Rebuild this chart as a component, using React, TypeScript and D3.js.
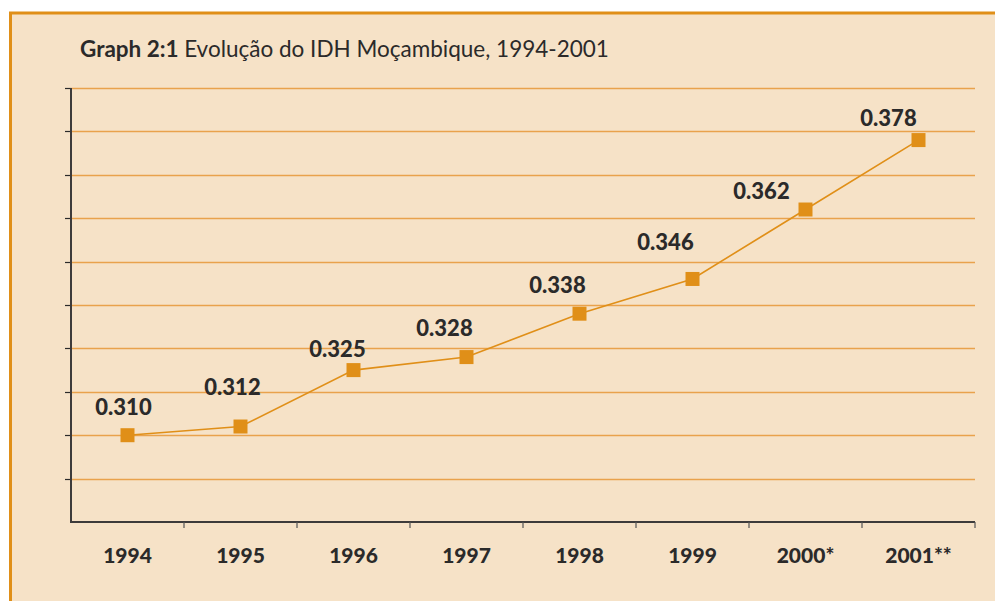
import React, { useEffect, useRef } from "react";
import * as d3 from "d3";

const years = ["1994", "1995", "1996", "1997", "1998", "1999", "2000*", "2001**"];
const idh = [0.31, 0.312, 0.325, 0.328, 0.338, 0.346, 0.362, 0.378];
const valueLabels = ["0.310", "0.312", "0.325", "0.328", "0.338", "0.346", "0.362", "0.378"];
// hand placement of value labels relative to the marker
const labelDx = [-4, -8, -16, -22, -22, -27, -44, -30];
const labelDy = [-20, -32, -13, -21, -21, -29, -11, -14];

const W = 995;
const H = 601;
const orange = "#e08f18";
const grid = "#e9a24c";
const bg = "#f6e2c7";
const ink = "#2b2a2a";
const font = "Lato, 'Open Sans', sans-serif";

export default function App() {
  const ref = useRef<SVGSVGElement>(null);

  useEffect(() => {
    const svg = d3.select(ref.current);
    svg.selectAll("*").remove();

    const left = 71;
    const right = 975;
    const top = 88;
    const bottom = 522;

    svg.append("rect").attr("width", W).attr("height", H).attr("fill", "#fff");
    svg.append("rect").attr("x", 10).attr("y", 13).attr("width", W - 10).attr("height", H - 13).attr("fill", bg);
    // frame: top and left edges
    svg.append("line").attr("x1", 9).attr("x2", W).attr("y1", 13).attr("y2", 13).attr("stroke", orange).attr("stroke-width", 3);
    svg.append("line").attr("x1", 10.5).attr("x2", 10.5).attr("y1", 12).attr("y2", H).attr("stroke", orange).attr("stroke-width", 3);

    const title = svg.append("text").attr("x", 80).attr("y", 57).attr("font-family", font).attr("font-size", 22.5).attr("fill", ink);
    title.append("tspan").attr("font-weight", "bold").text("Graph 2:1 ");
    title.append("tspan").text("Evolução do IDH Moçambique, 1994-2001");

    const x = d3.scaleBand().domain(years).range([left, right]);
    const y = d3.scaleLinear().domain([0.29, 0.39]).range([bottom, top]);
    const ticks = d3.range(0, 11).map((i) => 0.29 + i * 0.01);

    svg.append("g")
      .selectAll("line")
      .data(ticks.slice(1))
      .join("line")
      .attr("x1", left)
      .attr("x2", right)
      .attr("y1", (d) => Math.round(y(d)) + 0.5)
      .attr("y2", (d) => Math.round(y(d)) + 0.5)
      .attr("stroke", grid)
      .attr("stroke-width", 1.6);

    // y axis ticks
    svg.append("g")
      .selectAll("line")
      .data(ticks.slice(1))
      .join("line")
      .attr("x1", left - 6)
      .attr("x2", left)
      .attr("y1", (d) => Math.round(y(d)) + 0.5)
      .attr("y2", (d) => Math.round(y(d)) + 0.5)
      .attr("stroke", ink)
      .attr("stroke-width", 1.2);

    svg.append("line").attr("x1", left).attr("x2", left).attr("y1", top).attr("y2", bottom + 1).attr("stroke", "#3d3b3b").attr("stroke-width", 2);
    svg.append("line").attr("x1", left).attr("x2", right).attr("y1", bottom).attr("y2", bottom).attr("stroke", "#3d3b3b").attr("stroke-width", 2);

    // x ticks at band edges
    const edges = years.map((d) => x(d)! + x.bandwidth());
    svg.append("g")
      .selectAll("line")
      .data(edges)
      .join("line")
      .attr("x1", (d) => d)
      .attr("x2", (d) => d)
      .attr("y1", bottom)
      .attr("y2", bottom + 6)
      .attr("stroke", "#555")
      .attr("stroke-width", 1.2);

    svg.append("g")
      .selectAll("text")
      .data(years)
      .join("text")
      .attr("x", (d) => x(d)! + x.bandwidth() / 2)
      .attr("y", 563)
      .attr("text-anchor", "middle")
      .attr("font-family", font)
      .attr("font-weight", 900)
      .attr("font-size", 21)
      .attr("fill", ink)
      .text((d) => d);

    const cx = (i: number) => x(years[i])! + x.bandwidth() / 2;

    const line = d3
      .line<number>()
      .x((_, i) => cx(i))
      .y((d) => y(d));

    svg.append("path").datum(idh).attr("d", line).attr("fill", "none").attr("stroke", orange).attr("stroke-width", 1.6);

    svg.append("g")
      .selectAll("rect")
      .data(idh)
      .join("rect")
      .attr("x", (_, i) => cx(i) - 7)
      .attr("y", (d) => y(d) - 7)
      .attr("width", 14)
      .attr("height", 14)
      .attr("fill", orange);

    svg.append("g")
      .selectAll("text")
      .data(idh)
      .join("text")
      .attr("x", (_, i) => cx(i) + labelDx[i])
      .attr("y", (d, i) => y(d) + labelDy[i])
      .attr("text-anchor", "middle")
      .attr("font-family", font)
      .attr("font-weight", 900)
      .attr("font-size", 22)
      .attr("fill", ink)
      .text((_, i) => valueLabels[i]);
  }, []);

  return (
    <svg
      ref={ref}
      width={W}
      height={H}
      style={{ position: "absolute", left: 0, top: 0, display: "block" }}
    />
  );
}
